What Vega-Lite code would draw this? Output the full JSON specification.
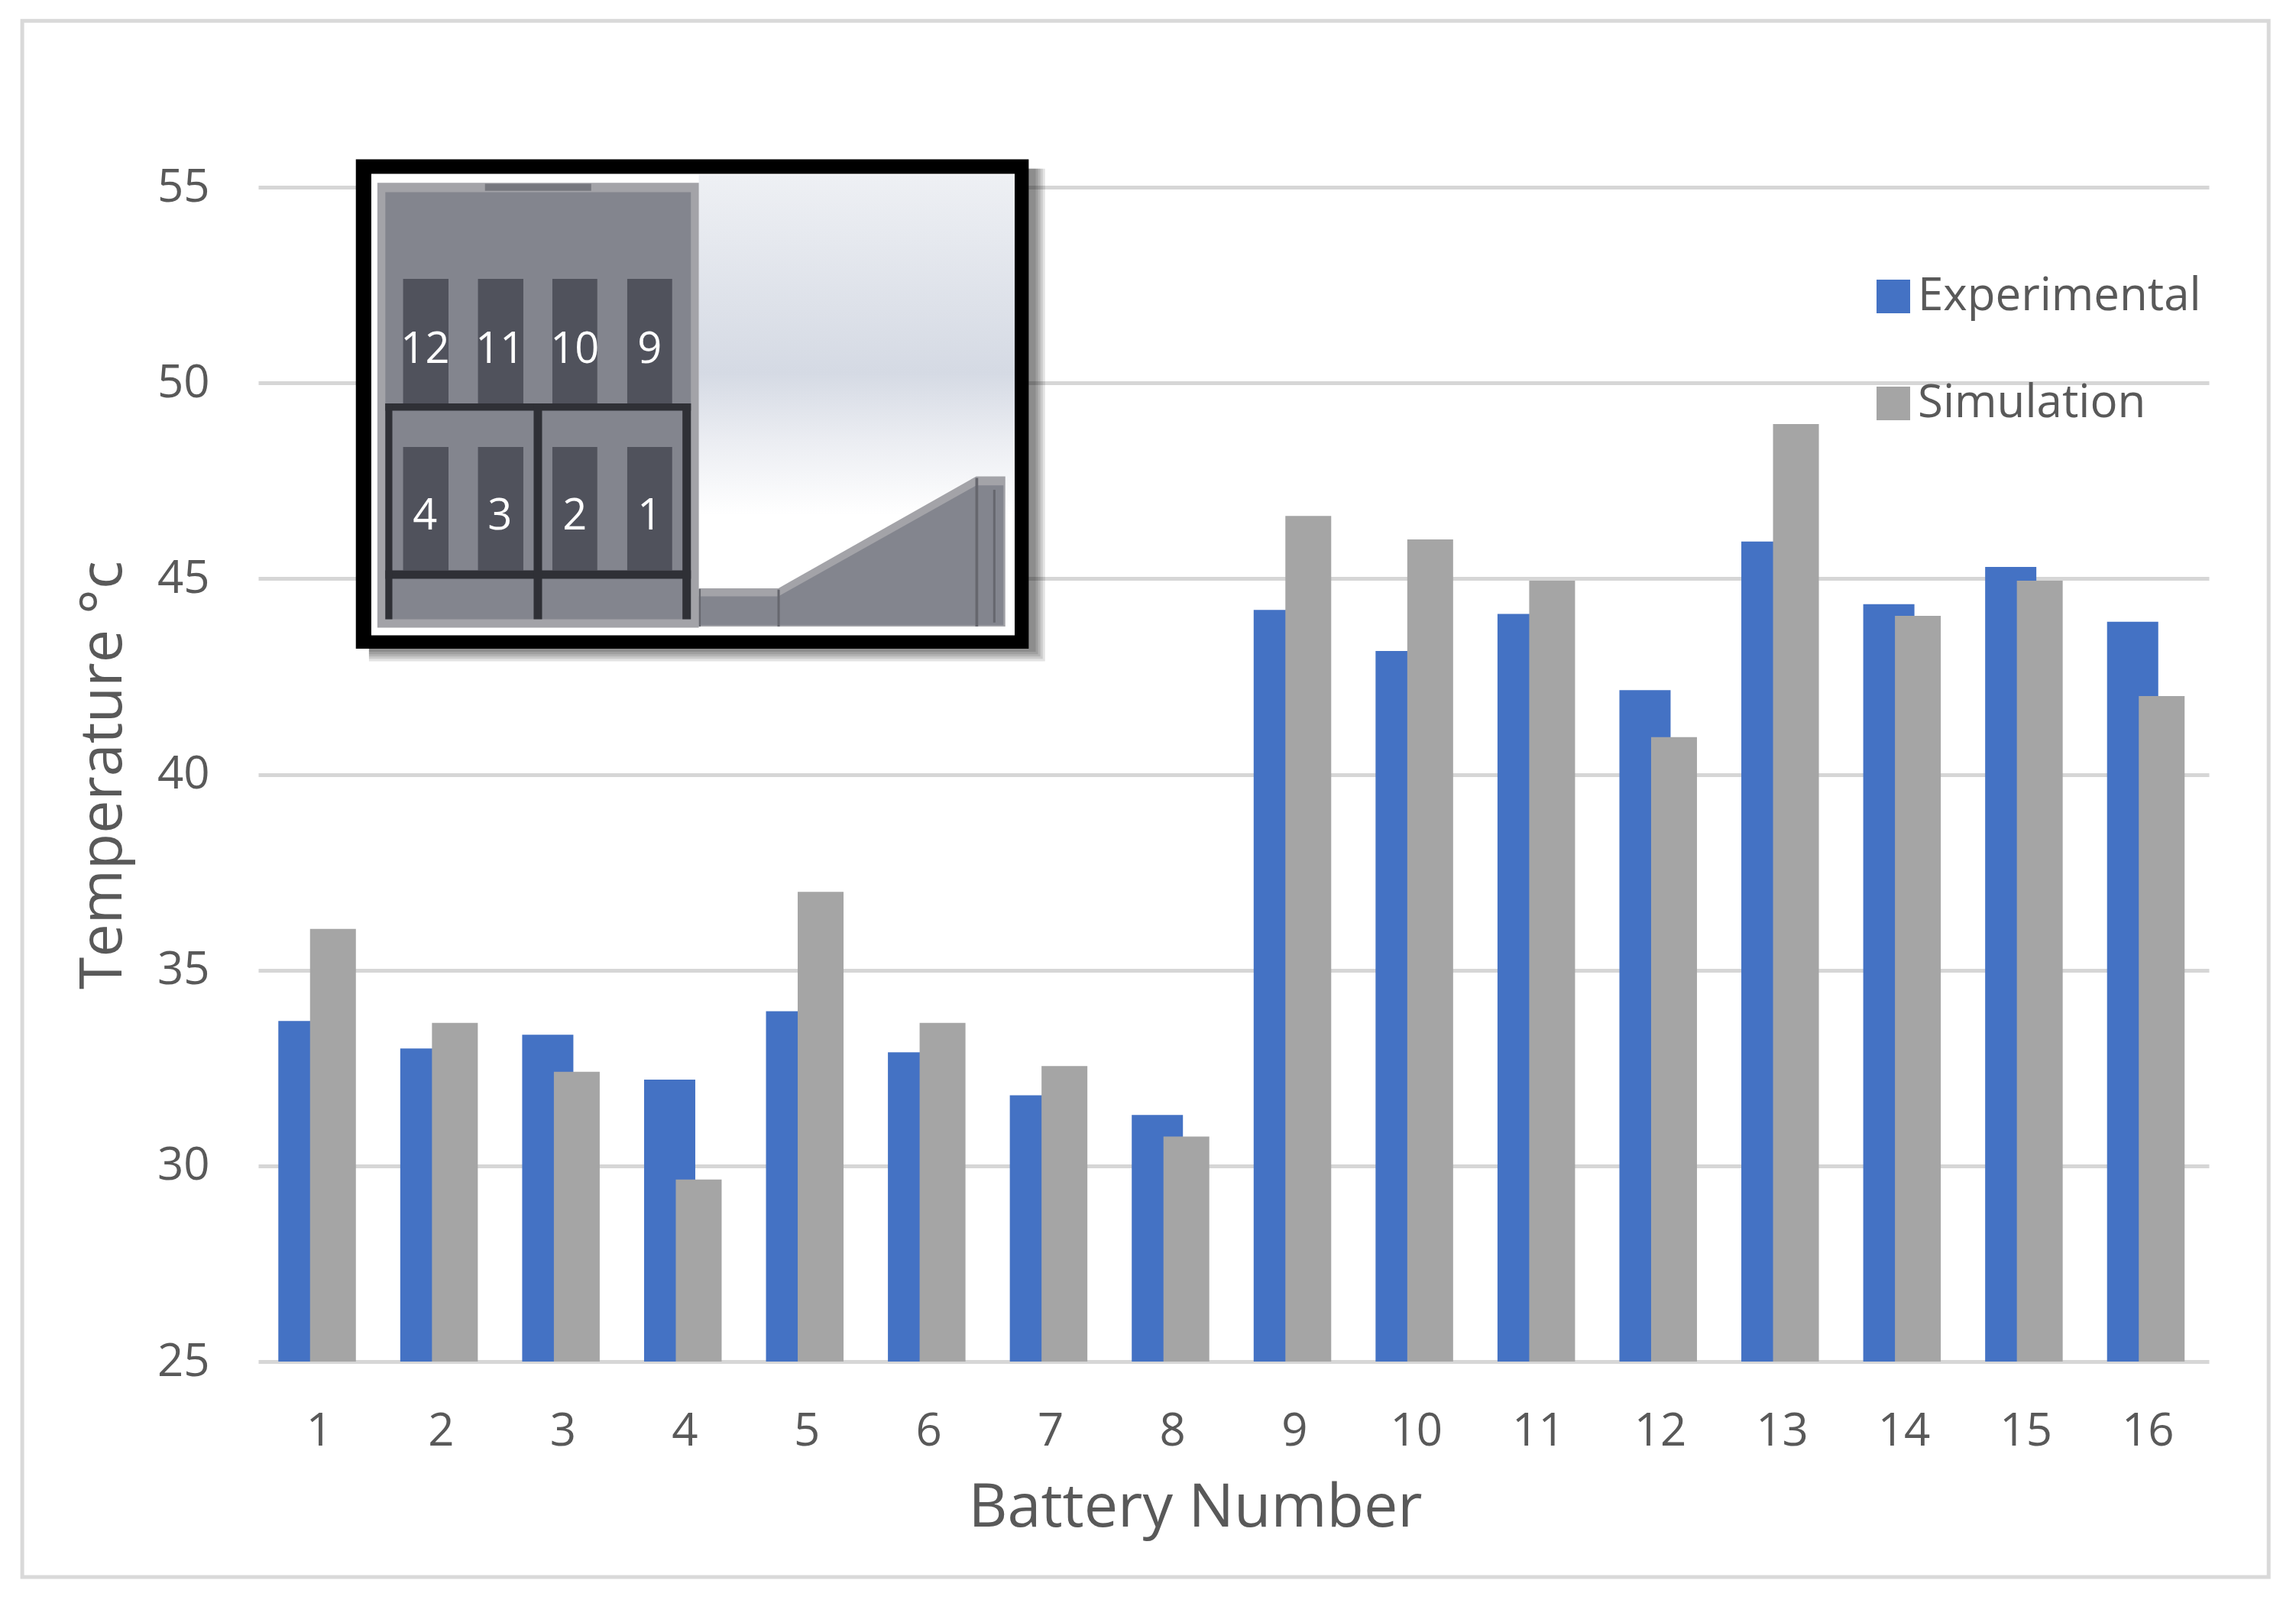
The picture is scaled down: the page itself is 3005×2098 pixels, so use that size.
{
  "$schema": "https://vega.github.io/schema/vega-lite/v6.json",
  "width": 2553,
  "height": 1537,
  "autosize": "none",
  "padding": {"left": 338, "top": 245, "right": 114, "bottom": 316},
  "background": "white",
  "config": {
    "font": "Open Sans",
    "view": {"stroke": null}
  },
  "datasets": {
    "temps": [
      {"battery": 1, "series": "Experimental", "temp": 33.7},
      {"battery": 2, "series": "Experimental", "temp": 33.0},
      {"battery": 3, "series": "Experimental", "temp": 33.35},
      {"battery": 4, "series": "Experimental", "temp": 32.2},
      {"battery": 5, "series": "Experimental", "temp": 33.95},
      {"battery": 6, "series": "Experimental", "temp": 32.9},
      {"battery": 7, "series": "Experimental", "temp": 31.8},
      {"battery": 8, "series": "Experimental", "temp": 31.3},
      {"battery": 9, "series": "Experimental", "temp": 44.2},
      {"battery": 10, "series": "Experimental", "temp": 43.15},
      {"battery": 11, "series": "Experimental", "temp": 44.1},
      {"battery": 12, "series": "Experimental", "temp": 42.15},
      {"battery": 13, "series": "Experimental", "temp": 45.95},
      {"battery": 14, "series": "Experimental", "temp": 44.35},
      {"battery": 15, "series": "Experimental", "temp": 45.3},
      {"battery": 16, "series": "Experimental", "temp": 43.9},
      {"battery": 1, "series": "Simulation", "temp": 36.05},
      {"battery": 2, "series": "Simulation", "temp": 33.65},
      {"battery": 3, "series": "Simulation", "temp": 32.4},
      {"battery": 4, "series": "Simulation", "temp": 29.65},
      {"battery": 5, "series": "Simulation", "temp": 37},
      {"battery": 6, "series": "Simulation", "temp": 33.65},
      {"battery": 7, "series": "Simulation", "temp": 32.55},
      {"battery": 8, "series": "Simulation", "temp": 30.75},
      {"battery": 9, "series": "Simulation", "temp": 46.6},
      {"battery": 10, "series": "Simulation", "temp": 46},
      {"battery": 11, "series": "Simulation", "temp": 44.95},
      {"battery": 12, "series": "Simulation", "temp": 40.95},
      {"battery": 13, "series": "Simulation", "temp": 48.95},
      {"battery": 14, "series": "Simulation", "temp": 44.05},
      {"battery": 15, "series": "Simulation", "temp": 44.95},
      {"battery": 16, "series": "Simulation", "temp": 42}
    ],
    "insetBack": [
      {"part": "shadow", "sx": 70, "sx2": 1515, "sy": 70, "sy2": 1535},
      {"part": "shadow", "sx": 70, "sx2": 1510, "sy": 70, "sy2": 1528},
      {"part": "shadow", "sx": 70, "sx2": 1505, "sy": 70, "sy2": 1521},
      {"part": "shadow", "sx": 70, "sx2": 1500, "sy": 70, "sy2": 1514},
      {"part": "shadow", "sx": 70, "sx2": 1495, "sy": 70, "sy2": 1507},
      {"part": "mount", "sx": 42, "sx2": 1480, "sy": 42, "sy2": 1498},
      {"part": "paper", "sx": 75, "sx2": 1450, "sy": 85, "sy2": 1458}
    ],
    "insetSky": [
      {"sx": 775, "sx2": 1450, "sy": 88, "sy2": 1100}
    ],
    "insetRamp": [
      {"part": "rim", "sx": 775, "sy": 1318, "sy2": 1432},
      {"part": "rim", "sx": 945, "sy": 1318, "sy2": 1432},
      {"part": "rim", "sx": 1368, "sy": 985, "sy2": 1432},
      {"part": "rim", "sx": 1430, "sy": 985, "sy2": 1432},
      {"part": "panel", "sx": 775, "sy": 1342, "sy2": 1428},
      {"part": "panel", "sx": 945, "sy": 1342, "sy2": 1428},
      {"part": "panel", "sx": 1368, "sy": 1012, "sy2": 1428},
      {"part": "panel", "sx": 1426, "sy": 1012, "sy2": 1428}
    ],
    "insetBox": [
      {"part": "rim", "sx": 88, "sx2": 775, "sy": 112, "sy2": 1435},
      {"part": "panel", "sx": 105, "sx2": 758, "sy": 140, "sy2": 1410},
      {"part": "notch", "sx": 318, "sx2": 545, "sy": 115, "sy2": 136},
      {"part": "cell", "sx": 143, "sx2": 240, "sy": 398, "sy2": 770},
      {"part": "cell", "sx": 303, "sx2": 400, "sy": 398, "sy2": 770},
      {"part": "cell", "sx": 462, "sx2": 558, "sy": 398, "sy2": 770},
      {"part": "cell", "sx": 622, "sx2": 718, "sy": 398, "sy2": 770},
      {"part": "cell", "sx": 143, "sx2": 240, "sy": 898, "sy2": 1265},
      {"part": "cell", "sx": 303, "sx2": 400, "sy": 898, "sy2": 1265},
      {"part": "cell", "sx": 462, "sx2": 558, "sy": 898, "sy2": 1265},
      {"part": "cell", "sx": 622, "sx2": 718, "sy": 898, "sy2": 1265},
      {"part": "divider", "sx": 105, "sx2": 758, "sy": 768, "sy2": 790},
      {"part": "divider", "sx": 105, "sx2": 758, "sy": 1265, "sy2": 1290},
      {"part": "divider", "sx": 105, "sx2": 120, "sy": 768, "sy2": 1410},
      {"part": "divider", "sx": 422, "sx2": 440, "sy": 768, "sy2": 1410},
      {"part": "divider", "sx": 740, "sx2": 758, "sy": 768, "sy2": 1410},
      {"part": "edge", "sx": 775, "sx2": 779, "sy": 1320, "sy2": 1432},
      {"part": "edge", "sx": 943, "sx2": 948, "sy": 1322, "sy2": 1432},
      {"part": "edge", "sx": 1366, "sx2": 1372, "sy": 990, "sy2": 1432},
      {"part": "edge", "sx": 1404, "sx2": 1409, "sy": 1025, "sy2": 1420}
    ],
    "insetLabels": [
      {"label": "12", "sx": 190, "sy": 610},
      {"label": "11", "sx": 350, "sy": 610},
      {"label": "10", "sx": 510, "sy": 610},
      {"label": "9", "sx": 670, "sy": 610},
      {"label": "4", "sx": 190, "sy": 1105},
      {"label": "3", "sx": 350, "sy": 1105},
      {"label": "2", "sx": 510, "sy": 1105},
      {"label": "1", "sx": 670, "sy": 1105}
    ],
    "frame": [
      {"sx": -671, "sx2": 4130, "sy": -370, "sy2": 4259}
    ]
  },
  "layer": [
    {
      "data": {"name": "temps"},
      "encoding": {
        "x": {
          "field": "battery",
          "type": "ordinal",
          "scale": {"paddingInner": 0, "paddingOuter": 0},
          "axis": {
            "title": "Battery Number",
            "titleFontSize": 79,
            "titleFontWeight": "normal",
            "titleColor": "#595959",
            "titleX": 1226,
            "titleY": 215,
            "titleBaseline": "alphabetic",
            "labelFontSize": 60,
            "labelColor": "#595959",
            "labelAngle": 0,
            "labelPadding": 62,
            "ticks": false,
            "domain": false,
            "grid": false
          }
        },
        "y": {
          "field": "temp",
          "type": "quantitative",
          "scale": {"domain": [25, 55], "nice": false, "zero": false},
          "axis": {
            "title": "Temperature °c",
            "titleFontSize": 77,
            "titleFontWeight": "normal",
            "titleColor": "#595959",
            "titleX": -180,
            "titleY": 769,
            "titleBaseline": "alphabetic",
            "labelFontSize": 60,
            "labelColor": "#595959",
            "labelPadding": 64,
            "values": [25, 30, 35, 40, 45, 50, 55],
            "ticks": false,
            "domain": false,
            "grid": true,
            "gridColor": "#d6d6d6",
            "gridWidth": 5
          }
        },
        "y2": {"datum": 25},
        "color": {
          "field": "series",
          "type": "nominal",
          "scale": {"domain": ["Experimental", "Simulation"], "range": ["#4472c4", "#a5a5a5"]},
          "legend": {
            "title": null,
            "orient": "none",
            "legendX": 2110,
            "legendY": 113,
            "symbolType": "square",
            "symbolSize": 1936,
            "symbolStrokeWidth": 0,
            "symbolOpacity": 1,
            "labelFontSize": 60,
            "labelLimit": 800,
            "labelColor": "#595959",
            "labelOffset": 2,
            "rowPadding": 80
          }
        }
      },
      "layer": [
        {
          "transform": [{"filter": "datum.series === 'Experimental'"}],
          "mark": {"type": "bar", "width": 67, "xOffset": -20}
        },
        {
          "transform": [{"filter": "datum.series === 'Simulation'"}],
          "mark": {"type": "bar", "width": 60, "xOffset": 18}
        }
      ]
    },
    {
      "encoding": {
        "x": {
          "field": "sx",
          "type": "quantitative",
          "scale": {"domain": [-166.6, 4002.3], "nice": false, "zero": false},
          "axis": null
        },
        "y": {
          "field": "sy",
          "type": "quantitative",
          "scale": {"domain": [3618.2, 125], "nice": false, "zero": false},
          "axis": null
        }
      },
      "layer": [
        {
          "data": {"name": "frame"},
          "mark": {"type": "rect", "fillOpacity": 0, "stroke": "#d9d9d9", "strokeWidth": 5},
          "encoding": {"x2": {"field": "sx2"}, "y2": {"field": "sy2"}}
        },
        {
          "data": {"name": "insetBack"},
          "mark": "rect",
          "encoding": {
            "x2": {"field": "sx2"},
            "y2": {"field": "sy2"},
            "color": {
              "field": "part",
              "type": "nominal",
              "legend": null,
              "scale": {
                "domain": ["shadow", "mount", "paper", "rim", "panel", "notch", "cell", "divider", "edge"],
                "range": ["rgba(0,0,0,0.11)", "#000000", "#ffffff", "#a3a3a8", "#83858e", "#76777e", "#50525c", "#2f3036", "#66676e"]
              }
            }
          }
        },
        {
          "data": {"name": "insetSky"},
          "mark": {
            "type": "rect",
            "color": {
              "gradient": "linear",
              "x1": 0, "y1": 0, "x2": 0, "y2": 1,
              "stops": [
                {"offset": 0, "color": "#eef0f4"},
                {"offset": 0.58, "color": "#d5dae4"},
                {"offset": 0.78, "color": "#ebedf2"},
                {"offset": 1, "color": "#ffffff"}
              ]
            }
          },
          "encoding": {"x2": {"field": "sx2"}, "y2": {"field": "sy2"}}
        },
        {
          "data": {"name": "insetRamp"},
          "mark": "area",
          "encoding": {
            "y2": {"field": "sy2"},
            "y": {"field": "sy", "type": "quantitative", "stack": null, "axis": null},
            "color": {"field": "part", "type": "nominal", "legend": null}
          }
        },
        {
          "data": {"name": "insetBox"},
          "mark": "rect",
          "encoding": {
            "x2": {"field": "sx2"},
            "y2": {"field": "sy2"},
            "color": {"field": "part", "type": "nominal", "legend": null}
          }
        },
        {
          "data": {"name": "insetLabels"},
          "mark": {"type": "text", "font": "Open Sans", "fontSize": 56, "color": "#ffffff", "baseline": "middle", "align": "center"},
          "encoding": {"text": {"field": "label"}}
        }
      ]
    }
  ],
  "resolve": {"scale": {"x": "independent", "y": "independent", "color": "independent"}}
}
